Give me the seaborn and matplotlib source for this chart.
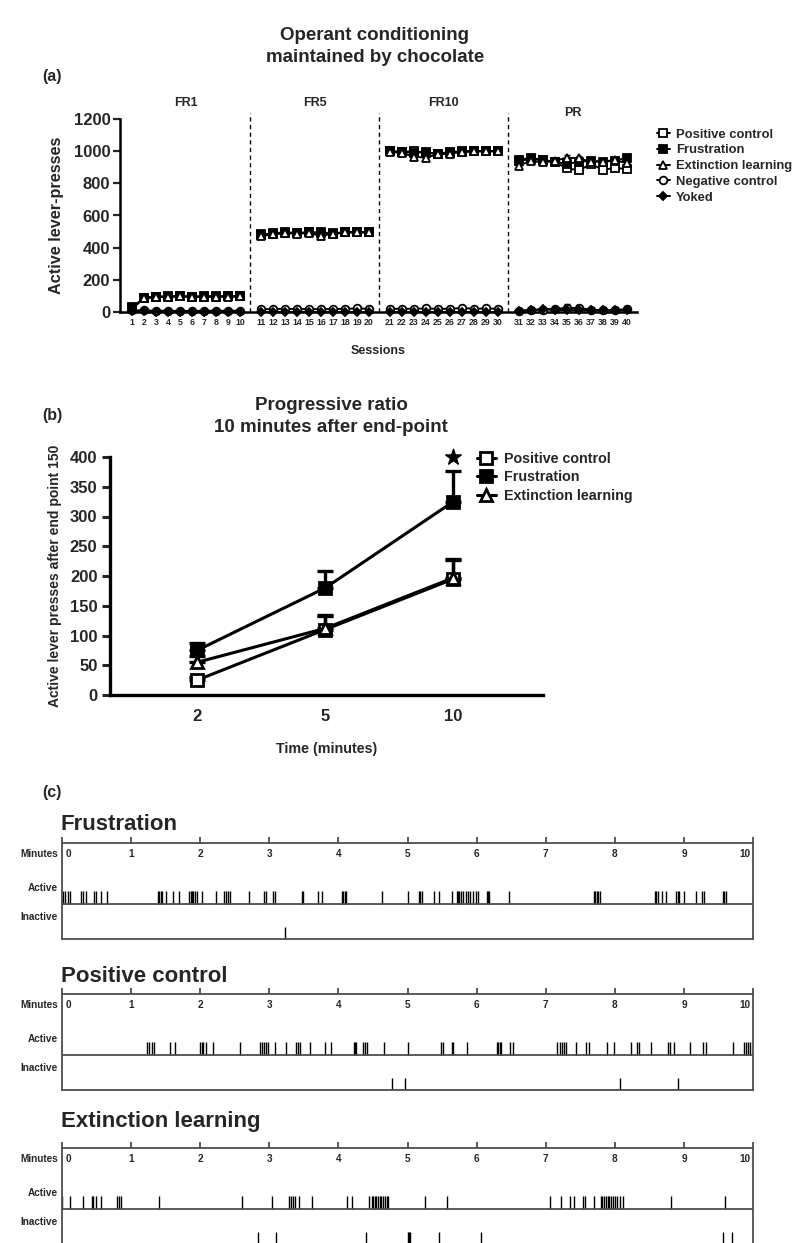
import numpy as np
import matplotlib
matplotlib.use("Agg")
import matplotlib.pyplot as plt
import seaborn as sns
from matplotlib.lines import Line2D

sns.set_theme(style="ticks")
plt.rcParams['font.family'] = ['Liberation Sans', 'DejaVu Sans']
plt.rcParams['font.weight'] = 'bold'
plt.rcParams['axes.labelweight'] = 'bold'
plt.rcParams['axes.titleweight'] = 'bold'

# ---------------- data: panel (a) ----------------
sessions = np.arange(1, 41)
block_names = ["FR1", "FR5", "FR10", "PR"]
legend_a = ["Positive control", "Frustration", "Extinction learning", "Negative control", "Yoked"]

pos_ctrl = [30, 85, 95, 97, 98, 96, 97, 97, 98, 98,
            480, 490, 495, 492, 495, 495, 490, 495, 497, 497,
            1000, 995, 1000, 990, 985, 995, 1000, 1000, 1000, 1000,
            940, 950, 945, 930, 895, 880, 920, 885, 895, 890]
frustration = [25, 90, 95, 96, 97, 95, 96, 96, 97, 97,
               485, 485, 490, 490, 495, 490, 485, 495, 495, 495,
               1000, 995, 990, 995, 980, 990, 995, 1000, 1000, 1000,
               945, 960, 945, 935, 920, 935, 940, 935, 940, 960]
extinction = [20, 85, 93, 95, 97, 94, 96, 95, 96, 97,
              470, 485, 490, 488, 490, 475, 485, 495, 497, 495,
              995, 990, 965, 960, 980, 985, 995, 1000, 1000, 1000,
              910, 940, 930, 940, 960, 955, 935, 935, 945, 925]
neg_ctrl = [10, 10, 8, 8, 7, 7, 8, 8, 8, 8,
            18, 18, 20, 18, 18, 18, 18, 20, 22, 20,
            20, 20, 20, 22, 20, 20, 25, 20, 22, 20,
            8, 10, 15, 20, 25, 25, 15, 10, 10, 20]
yoked = [5, 5, 3, 3, 3, 3, 3, 3, 3, 3,
         2, 2, 2, 2, 2, 2, 2, 2, 2, 2,
         2, 2, 2, 2, 2, 2, 2, 2, 2, 2,
         8, 10, 20, 12, 12, 10, 10, 10, 10, 10]
pos_err = [5] * 10 + [8] * 10 + [10] * 10 + [15, 10, 10, 15, 25, 20, 15, 20, 15, 20]
frus_err = [5] * 10 + [8] * 10 + [10] * 10 + [10] * 10
ext_err = [5] * 10 + [10, 8, 8, 8, 8, 30, 10, 8, 8, 8] + [10, 10, 30, 35, 10, 10, 8, 8, 8, 8] + [15] * 10
neg_err = [3] * 10 + [4] * 10 + [4] * 10 + [5, 5, 8, 10, 25, 20, 8, 5, 5, 15]
yoked_err = [2] * 40

# ---------------- data: panel (b) ----------------
time_labels = ["2", "5", "10"]
legend_b = ["Positive control", "Frustration", "Extinction learning"]
pb_pos = [25, 110, 195]
pb_pos_err = [5, 25, 33]
pb_frus = [75, 180, 325]
pb_frus_err = [13, 28, 52]
pb_ext = [55, 112, 197]
pb_ext_err = [10, 20, 30]
star_value = 400

# ---------------- data: panel (c) ----------------
raster_titles = ["Frustration", "Positive control", "Extinction learning"]
minutes = list(range(0, 11))
frus_active = [0.01, 0.04, 0.08, 0.12, 0.27, 0.30, 0.35, 0.46, 0.49, 0.57, 0.65,
               1.39, 1.41, 1.43, 1.45, 1.51, 1.61, 1.69, 1.84, 1.86, 1.88, 1.90, 1.92, 1.95,
               2.02, 2.23, 2.34, 2.37, 2.40, 2.43, 2.70, 2.92, 2.95, 3.06, 3.08,
               3.47, 3.49, 3.71, 3.76, 4.05, 4.07, 4.09, 4.11, 4.63, 5.01, 5.16, 5.18, 5.21,
               5.39, 5.46, 5.64, 5.71, 5.73, 5.75, 5.77, 5.81, 5.84, 5.88, 5.91, 5.95, 5.99, 6.02,
               6.15, 6.17, 6.18, 6.47, 7.70, 7.72, 7.74, 7.76, 7.78,
               8.58, 8.60, 8.63, 8.69, 8.74, 8.89, 8.91, 8.93, 9.00, 9.18, 9.26, 9.29,
               9.56, 9.58, 9.61]
frus_inactive = [3.23]
pos_active = [1.23, 1.26, 1.30, 1.33, 1.57, 1.63, 1.99, 2.02, 2.04, 2.08, 2.19, 2.57,
              2.86, 2.89, 2.92, 2.95, 2.98, 3.08, 3.24, 3.39, 3.42, 3.45, 3.59, 3.81, 3.89,
              4.22, 4.24, 4.26, 4.35, 4.38, 4.41, 4.66, 5.01, 5.48, 5.51, 5.64, 5.66, 5.86,
              6.29, 6.31, 6.34, 6.36, 6.48, 6.52, 7.17, 7.20, 7.23, 7.26, 7.30, 7.44, 7.59, 7.62,
              7.89, 7.99, 8.23, 8.32, 8.35, 8.52, 8.77, 8.80, 8.85, 9.09, 9.27, 9.32, 9.71,
              9.87, 9.90, 9.93, 9.96]
pos_inactive = [4.77, 4.97, 8.08, 8.92]
ext_active = [0.00, 0.12, 0.30, 0.43, 0.45, 0.49, 0.56, 0.79, 0.83, 0.86, 1.41, 2.60, 3.04,
              3.29, 3.31, 3.34, 3.37, 3.43, 3.62, 4.13, 4.19,
              4.45, 4.48, 4.50, 4.53, 4.55, 4.58, 4.60, 4.62, 4.65, 4.67, 4.70, 4.72,
              5.25, 5.57, 7.06, 7.22, 7.35, 7.41, 7.54, 7.57, 7.70,
              7.80, 7.82, 7.85, 7.87, 7.90, 7.92, 7.95, 7.97, 8.00, 8.03, 8.07, 8.12, 8.81, 9.59]
ext_inactive = [2.83, 3.09, 4.40, 5.00, 5.02, 5.04, 5.46, 6.06, 9.56, 9.69]
raster_active = [frus_active, pos_active, ext_active]
raster_inactive = [frus_inactive, pos_inactive, ext_inactive]

# ---------------- figure ----------------
W, H = 792, 1243
fig = plt.figure(figsize=(W / 100, H / 100), dpi=100)


def axes_px(l, t, r, b):
    return fig.add_axes([l / W, 1 - b / H, (r - l) / W, (b - t) / H])


def ftext(x, y, s, **kw):
    fig.text(x / W, 1 - y / H, s, **kw)


# ===== panel (a) =====
ftext(375, 35, "Operant conditioning", ha="center", va="center", fontsize=13.5, fontweight="bold")
ftext(375, 57, "maintained by chocolate", ha="center", va="center", fontsize=13.5,
      fontweight="bold")
ftext(42, 76, "(a)", ha="left", va="center", fontsize=11.5, fontweight="bold")

ax = axes_px(120, 119, 637, 312)
sess_arr = np.asarray(sessions)
xpos = sess_arr + 0.75 * ((sess_arr - 1) // 10)
series_a = [(pos_ctrl, pos_err, 's', 'white'),
            (frustration, frus_err, 's', 'black'),
            (extinction, ext_err, '^', 'white'),
            (neg_ctrl, neg_err, 'o', 'white'),
            (yoked, yoked_err, 'D', 'black')]
for vals, err, mk, fc in series_a:
    vals = np.asarray(vals, float)
    err = np.asarray(err, float)
    for b in range(len(block_names)):
        sl = slice(b * 10, b * 10 + 10)
        ax.errorbar(xpos[sl], vals[sl], yerr=[np.zeros(10), err[sl]], fmt='none',
                    ecolor='black', elinewidth=1.0, capsize=2.5, capthick=1.0, zorder=2,
                    clip_on=False)
        sns.lineplot(x=xpos[sl], y=vals[sl], ax=ax, color='black', lw=1.4, marker=mk,
                     ms=5.5 if mk != 'D' else 4.5, mfc=fc, mec='black', mew=1.3,
                     legend=False, zorder=3, clip_on=False)
ax.set_xlim(0, 43.1)
ax.set_ylim(0, 1200)
ax.set_yticks(np.arange(0, 1201, 200))
ax.set_xticks(xpos)
ax.set_xticklabels([str(s) for s in sessions], fontsize=6.3, fontweight='bold')
ax.tick_params(axis='x', length=0, pad=4)
ax.tick_params(axis='y', labelsize=12, length=5, width=1.6, pad=2)
for lbl in ax.get_yticklabels():
    lbl.set_fontweight('bold')
sns.despine(ax=ax)
for sp in ['left', 'bottom']:
    ax.spines[sp].set_linewidth(1.8)
    ax.spines[sp].set_color('black')
ax.set_ylabel("Active lever-presses", fontsize=11.7, fontweight='bold', labelpad=7)
ax.set_xlabel("Sessions", fontsize=9, fontweight='bold', labelpad=13)
for b in range(1, len(block_names)):
    xd = (xpos[b * 10 - 1] + xpos[b * 10]) / 2
    ax.plot([xd, xd], [0, 1235], ls=(0, (3, 2.5)), color='black', lw=1.0, clip_on=False)
for b, name in enumerate(block_names):
    xc = (xpos[b * 10] + xpos[b * 10 + 9]) / 2
    yl = 1300 if name != "PR" else 1237
    ax.text(xc, yl, name, ha='center', va='center', fontsize=9, fontweight='bold')

handles_a = [Line2D([0], [0], color='black', lw=1.4, marker=mk, ms=5.5 if mk != 'D' else 4.5,
                    mfc=fc, mec='black', mew=1.3) for _, _, mk, fc in series_a]
leg = ax.legend(handles_a, legend_a, loc='upper left', bbox_to_anchor=(650 / W, 1 - 122 / H),
                bbox_transform=fig.transFigure, frameon=False, fontsize=9.4,
                handlelength=1.0, handletextpad=0.5, labelspacing=0.28, borderpad=0)
for t in leg.get_texts():
    t.set_fontweight('bold')

# ===== panel (b) =====
ftext(331, 405, "Progressive ratio", ha="center", va="center", fontsize=13.5, fontweight="bold")
ftext(331, 428, "10 minutes after end-point", ha="center", va="center", fontsize=13.5,
      fontweight="bold")
ftext(42, 415, "(b)", ha="left", va="center", fontsize=11.5, fontweight="bold")

axb = axes_px(110, 457, 543, 695)
tx = np.arange(len(time_labels))
series_b = [(pb_pos, pb_pos_err, 's', 'white'),
            (pb_frus, pb_frus_err, 's', 'black'),
            (pb_ext, pb_ext_err, '^', 'white')]
for vals, err, mk, fc in series_b:
    axb.errorbar(tx, vals, yerr=[np.zeros(len(err)), err], fmt='none', ecolor='black',
                 elinewidth=2.4, capsize=5.5, capthick=2.4, zorder=2)
for vals, err, mk, fc in series_b:
    sns.lineplot(x=tx, y=vals, ax=axb, color='black', lw=2.2, marker=mk, ms=9,
                 mfc=fc, mec='black', mew=2.0, legend=False, zorder=3)
axb.scatter([tx[-1]], [star_value], marker='*', s=140, color='black', zorder=4, clip_on=False)
axb.set_xlim(-0.68, 2.70)
axb.set_ylim(0, 400)
axb.set_yticks(np.arange(0, 401, 50))
axb.set_xticks(tx)
axb.set_xticklabels(time_labels, fontsize=12, fontweight='bold')
axb.tick_params(axis='x', length=0, pad=10)
axb.tick_params(axis='y', labelsize=12, length=6, width=2.2, pad=3)
for lbl in axb.get_yticklabels():
    lbl.set_fontweight('bold')
sns.despine(ax=axb)
for sp in ['left', 'bottom']:
    axb.spines[sp].set_linewidth(2.4)
    axb.spines[sp].set_color('black')
axb.set_ylabel("Active lever presses after end point 150", fontsize=10, fontweight='bold',
               labelpad=6)
axb.set_xlabel("Time (minutes)", fontsize=10.3, fontweight='bold', labelpad=13)
handles_b = [Line2D([0], [0], color='black', lw=2.2, marker=mk, ms=9, mfc=fc, mec='black',
                    mew=2.0) for _, _, mk, fc in series_b]
legb = axb.legend(handles_b, legend_b, loc='upper left', bbox_to_anchor=(470 / W, 1 - 445 / H),
                  bbox_transform=fig.transFigure, frameon=False, fontsize=10.3,
                  handlelength=1.3, handletextpad=0.6, labelspacing=0.3, borderpad=0)
for t in legb.get_texts():
    t.set_fontweight('bold')

# ===== panel (c) =====
ftext(42, 792, "(c)", ha="left", va="center", fontsize=11.5, fontweight="bold")
tops = [843, 994, 1148]
title_y = [825, 977, 1122]
gray = '#4d4d4d'
for i, title in enumerate(raster_titles):
    top = tops[i]
    axr = axes_px(62, top, 753, top + 96)
    axr.set_xlim(minutes[0], minutes[-1])
    axr.set_ylim(0, 1)
    div = 0.365
    axr.vlines(raster_active[i], div, div + 0.13, color='black', lw=1.0)
    axr.vlines(raster_inactive[i], 0, 0.13, color='black', lw=1.0)
    axr.axhline(div, color=gray, lw=1.3)
    for sp in axr.spines.values():
        sp.set_color(gray)
        sp.set_linewidth(1.3)
        sp.set_visible(True)
    axr.xaxis.tick_top()
    axr.set_xticks(minutes)
    axr.tick_params(axis='x', direction='out', length=4.5, width=1.3, color=gray,
                    labeltop=False, labelbottom=False, top=True, bottom=False)
    axr.set_yticks([])
    for m in minutes:
        ha = 'center'
        xm = m
        if m == minutes[0]:
            ha = 'left'
            xm = m + 0.05
        elif m == minutes[-1]:
            ha = 'right'
            xm = m - 0.04
        axr.text(xm, 0.885, str(m), ha=ha, va='center', fontsize=7.2, fontweight='bold')
    for lab, yy in [("Minutes", 0.885), ("Active", 0.53), ("Inactive", 0.23)]:
        axr.text(-0.006, yy, lab, ha='right', va='center', fontsize=7.2,
                 fontweight='bold', transform=axr.transAxes)
    ftext(61, title_y[i], title, ha='left', va='center', fontsize=16, fontweight='bold')

fig.savefig("out.png", dpi=100)
